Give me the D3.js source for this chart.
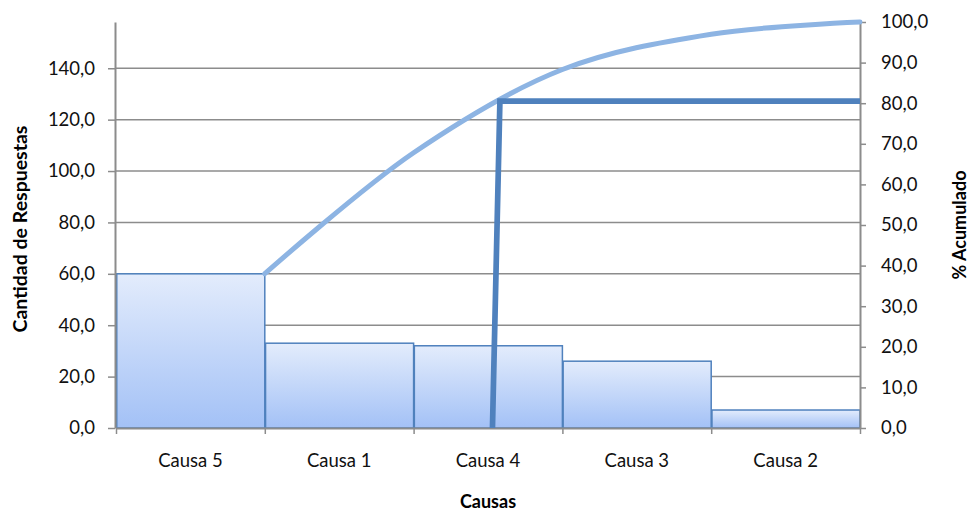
<!DOCTYPE html>
<html>
<head>
<meta charset="utf-8">
<script src="https://cdn.jsdelivr.net/npm/d3@7"></script>
<style>
  html, body { margin: 0; padding: 0; background: #fff; }
  svg { display: block; font-family: Lato, "Noto Sans", sans-serif; }
</style>
</head>
<body>
<svg id="chart" width="970" height="513"></svg>
<script>
// Pareto data: causes sorted by number of responses
const categories = ["Causa 5", "Causa 1", "Causa 4", "Causa 3", "Causa 2"];
const counts = [60, 33, 32, 26, 7];
const countMax = 158;
const countTicks = [0, 20, 40, 60, 80, 100, 120, 140];
const pctTicks = [0, 10, 20, 30, 40, 50, 60, 70, 80, 90, 100];
// cumulative-percentage curve, one value at the right edge of each bar
const cumulativePct = [38.0, 67.8, 88.3, 97.0, 100.0];
// 80 % cut-off marker: [position along the cause axis, percent]
const cutoffX = [2.53, 2.58, 5];
const cutoffPct = [0, 80.5, 80.5];

const W = 970, H = 513;
const plot = { left: 116, right: 860, top: 22, bottom: 428 };

const svg = d3.select("#chart");

const x = d3.scaleBand().domain(categories).range([plot.left, plot.right]).padding(0);
const xPos = d3.scaleLinear().domain([0, categories.length]).range([plot.left, plot.right]);
const yCount = d3.scaleLinear().domain([0, countMax]).range([plot.bottom, plot.top]);
const yPct = d3.scaleLinear().domain([0, 100]).range([plot.bottom, plot.top]);

const fmt = d => d3.format(".1f")(d).replace(".", ",");
const axisColor = "#8c8c8c";

// bar fill gradient
const defs = svg.append("defs");
const grad = defs.append("linearGradient")
  .attr("id", "barFill").attr("x1", 0).attr("y1", 0).attr("x2", 0).attr("y2", 1);
grad.append("stop").attr("offset", "0%").attr("stop-color", "#e3ecfc");
grad.append("stop").attr("offset", "100%").attr("stop-color", "#a3c1f6");

// horizontal gridlines
svg.append("g")
  .selectAll("line")
  .data(countTicks.filter(d => d > 0))
  .join("line")
  .attr("x1", plot.left - 1).attr("x2", plot.right)
  .attr("y1", d => yCount(d)).attr("y2", d => yCount(d))
  .attr("stroke", axisColor).attr("stroke-width", 1.5);

// bars
svg.append("g")
  .selectAll("rect")
  .data(categories)
  .join("rect")
  .attr("x", d => x(d) + 0.75)
  .attr("width", x.bandwidth() - 0.75)
  .attr("y", (d, i) => yCount(counts[i]))
  .attr("height", (d, i) => yCount(0) - yCount(counts[i]))
  .attr("fill", "url(#barFill)")
  .attr("stroke", "#4f81bd")
  .attr("stroke-width", 1.5);

// left axis (counts)
const gLeft = svg.append("g")
  .attr("transform", `translate(${plot.left - 1},0)`)
  .call(d3.axisLeft(yCount).tickValues(countTicks).tickFormat(fmt)
    .tickSize(7).tickSizeOuter(0).tickPadding(13));

// right axis (cumulative percent)
const gRight = svg.append("g")
  .attr("transform", `translate(${plot.right},0)`)
  .call(d3.axisRight(yPct).tickValues(pctTicks).tickFormat(fmt)
    .tickSize(6).tickSizeOuter(0).tickPadding(15));

// bottom axis: tick marks at the boundaries between causes
const gBottom = svg.append("g")
  .attr("transform", `translate(0,${plot.bottom})`)
  .call(d3.axisBottom(xPos).tickValues(d3.range(categories.length + 1))
    .tickFormat("").tickSize(6).tickSizeOuter(0));

// category labels centred under each bar
const gCats = svg.append("g")
  .attr("transform", `translate(0,${plot.bottom})`)
  .call(d3.axisBottom(x).tickSize(0).tickPadding(26));
gCats.select(".domain").remove();

[gLeft, gRight, gBottom].forEach(g => {
  g.select(".domain").attr("stroke", axisColor).attr("stroke-width", 2);
  g.selectAll(".tick line").attr("stroke", axisColor).attr("stroke-width", 1.5);
});
[gLeft, gRight, gCats].forEach(g => {
  g.selectAll(".tick text")
    .attr("fill", "#111")
    .style("font-family", "Lato, 'Noto Sans', sans-serif")
    .style("font-size", "18.5px");
});

// cumulative percentage curve
const cumLine = d3.line()
  .x((d, i) => xPos(i + 1))
  .y(d => yPct(d))
  .curve(d3.curveCatmullRom.alpha(0.5));
svg.append("path")
  .datum(cumulativePct)
  .attr("d", cumLine)
  .attr("fill", "none")
  .attr("stroke", "#8db4e3")
  .attr("stroke-width", 5)
  .attr("stroke-linecap", "round");

// 80 % cut-off marker
const cutLine = d3.line()
  .x(d => xPos(cutoffX[d]))
  .y(d => yPct(cutoffPct[d]));
svg.append("path")
  .datum(d3.range(cutoffX.length))
  .attr("d", cutLine)
  .attr("fill", "none")
  .attr("stroke", "#4f81bd")
  .attr("stroke-width", 5.7)
  .attr("stroke-linejoin", "miter");

// axis titles
svg.append("text")
  .attr("transform", `translate(27,229) rotate(-90)`)
  .attr("text-anchor", "middle")
  .style("font-weight", "bold").style("font-size", "19.5px")
  .text("Cantidad de Respuestas");

svg.append("text")
  .attr("transform", `translate(966,${(plot.top + plot.bottom) / 2}) rotate(-90)`)
  .attr("text-anchor", "middle")
  .style("font-weight", "bold").style("font-size", "18px")
  .text("% Acumulado");

svg.append("text")
  .attr("x", (plot.left + plot.right) / 2)
  .attr("y", 508)
  .attr("text-anchor", "middle")
  .style("font-weight", "bold").style("font-size", "18px")
  .text("Causas");
</script>
</body>
</html>
